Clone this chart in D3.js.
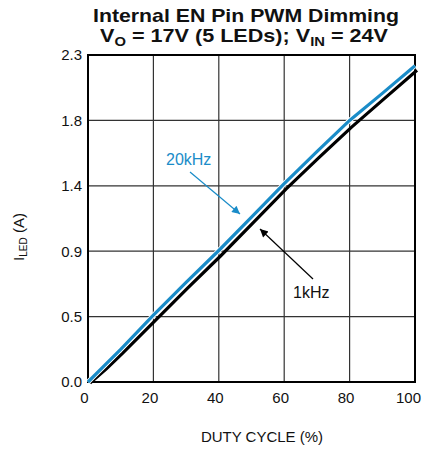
<!DOCTYPE html>
<html><head><meta charset="utf-8">
<script src="https://cdn.jsdelivr.net/npm/d3@7"></script>
<style>body{margin:0;background:#fff}svg{display:block;font-family:"Liberation Sans",Arial,sans-serif}</style>
</head><body><svg id="c" width="426" height="449"></svg>
<script>
const duty = [0, 5, 10, 20, 30, 40, 50, 60, 70, 80, 90, 100];
const i20k = [0, 0.115, 0.23, 0.47, 0.70, 0.925, 1.16, 1.395, 1.62, 1.84, 2.03, 2.225];
const i1k  = [0, 0.10, 0.21, 0.44, 0.67, 0.895, 1.13, 1.365, 1.585, 1.80, 2.00, 2.20];
const xTicks = [0, 20, 40, 60, 80, 100];
const yTicks = [0, 0.46, 0.92, 1.38, 1.84, 2.3];
const yTickLabels = ["0.0", "0.5", "0.9", "1.4", "1.8", "2.3"];

const svg = d3.select("#c");
const L = 88, R = 415, T = 55, B = 382;
const x = d3.scaleLinear().domain([0, 100]).range([L, R]);
const y = d3.scaleLinear().domain([0, 2.3]).range([B, T]);

// grid
svg.append("g").selectAll("line").data(xTicks.slice(1, -1)).join("line")
  .attr("x1", d => x(d)).attr("x2", d => x(d)).attr("y1", T).attr("y2", B)
  .attr("stroke", "#333").attr("stroke-width", 1.2);
svg.append("g").selectAll("line").data(yTicks.slice(1, -1)).join("line")
  .attr("y1", d => y(d)).attr("y2", d => y(d)).attr("x1", L).attr("x2", R)
  .attr("stroke", "#333").attr("stroke-width", 1.2);

// axes (labels only)
const xAxis = svg.append("g").attr("transform", `translate(0,${B})`)
  .call(d3.axisBottom(x).tickValues(xTicks).tickSize(0).tickPadding(10));
const yAxis = svg.append("g").attr("transform", `translate(${L},0)`)
  .call(d3.axisLeft(y).tickValues(yTicks).tickFormat((d, i) => yTickLabels[i]).tickSize(0).tickPadding(6));
[xAxis, yAxis].forEach(a => {
  a.select(".domain").remove();
  a.selectAll("text").attr("font-size", 15).attr("fill", "#111").attr("font-family", "Liberation Sans, Arial, sans-serif");
});
xAxis.selectAll("text").attr("dx", d => d === 100 ? -7 : -4);

// frame
svg.append("rect").attr("x", L).attr("y", T).attr("width", R - L).attr("height", B - T)
  .attr("fill", "none").attr("stroke", "#000").attr("stroke-width", 2);

// lines
const line = d3.line().x(d => x(d[0])).y(d => y(d[1]));
svg.append("path").datum(duty.map((d, i) => [d, i1k[i]]))
  .attr("d", line).attr("fill", "none").attr("stroke", "#000").attr("stroke-width", 3.2)
  .attr("transform", "translate(2,1)");
svg.append("path").datum(duty.map((d, i) => [d, i20k[i]]))
  .attr("d", line).attr("fill", "none").attr("stroke", "#fff").attr("stroke-width", 5);
svg.append("path").datum(duty.map((d, i) => [d, i20k[i]]))
  .attr("d", line).attr("fill", "none").attr("stroke", "#1a8cc8").attr("stroke-width", 3.2);

// annotations
const defs = svg.append("defs");
function marker(id, col) {
  defs.append("marker").attr("id", id).attr("viewBox", "0 0 10 10").attr("refX", 10).attr("refY", 5)
    .attr("markerWidth", 11).attr("markerHeight", 8).attr("markerUnits", "userSpaceOnUse").attr("orient", "auto")
    .append("path").attr("d", "M0,0 L10,5 L0,10 Z").attr("fill", col);
}
marker("ab", "#1a8cc8"); marker("ak", "#000");
svg.append("line").attr("x1", 190).attr("y1", 172).attr("x2", 240).attr("y2", 214)
  .attr("stroke", "#1a8cc8").attr("stroke-width", 1.2).attr("marker-end", "url(#ab)");
svg.append("text").attr("x", 166).attr("y", 165).attr("font-size", 16).attr("fill", "#1a8cc8").text("20kHz");
svg.append("line").attr("x1", 313).attr("y1", 279).attr("x2", 260).attr("y2", 229)
  .attr("stroke", "#000").attr("stroke-width", 1.2).attr("marker-end", "url(#ak)");
svg.append("text").attr("x", 293).attr("y", 298).attr("font-size", 16).attr("fill", "#111").text("1kHz");

// titles
svg.append("text").attr("x", 93).attr("y", 22)
  .attr("font-size", 19).attr("font-weight", "bold").attr("fill", "#111")
  .attr("textLength", 306).attr("lengthAdjust", "spacingAndGlyphs").text("Internal EN Pin PWM Dimming");
const t2 = svg.append("text").attr("x", 100).attr("y", 42)
  .attr("font-size", 19).attr("font-weight", "bold").attr("fill", "#111")
  .attr("textLength", 288).attr("lengthAdjust", "spacingAndGlyphs");
t2.append("tspan").text("V");
t2.append("tspan").attr("font-size", 13).attr("dy", 4).text("O");
t2.append("tspan").attr("dy", -4).text(" = 17V (5 LEDs); V");
t2.append("tspan").attr("font-size", 13).attr("dy", 4).text("IN");
t2.append("tspan").attr("dy", -4).text(" = 24V");

svg.append("text").attr("x", 262).attr("y", 442).attr("text-anchor", "middle")
  .attr("font-size", 15).attr("fill", "#111").text("DUTY CYCLE (%)");
const yl = svg.append("text").attr("transform", "translate(24,237) rotate(-90)").attr("text-anchor", "middle")
  .attr("font-size", 15).attr("fill", "#111");
yl.append("tspan").text("I");
yl.append("tspan").attr("font-size", 10).attr("dy", 3).text("LED");
yl.append("tspan").attr("dy", -3).text(" (A)");
</script></body></html>
